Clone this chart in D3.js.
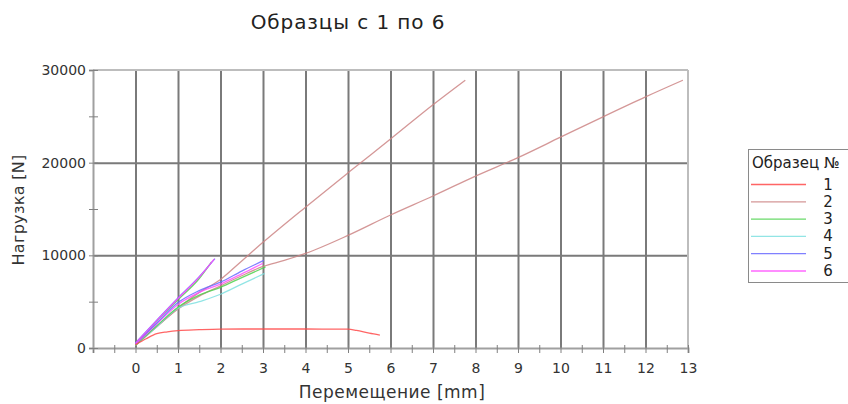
<!DOCTYPE html>
<html><head><meta charset="utf-8">
<script src="https://cdn.jsdelivr.net/npm/d3@7/dist/d3.min.js"></script>
<style>
html,body{margin:0;padding:0;background:#fff;}
svg{display:block;font-family:"DejaVu Sans",Verdana,sans-serif;}
</style></head>
<body>
<svg id="chart" width="848" height="404"></svg>
<script>
// ---- data ----
const title = "Образцы с 1 по 6";
const xTitle = "Перемещение [mm]";
const yTitle = "Нагрузка [N]";
const legendTitle = "Образец №";
const seriesNames = ["1","2","3","4","5","6"];
const xTickLabels = [0,1,2,3,4,5,6,7,8,9,10,11,12,13];
const yTickLabels = [0,10000,20000,30000];

// curves: [displacement mm, load N]
const curve1  = [[0,350],[0.25,1000],[0.5,1550],[0.75,1750],[1,1880],[1.5,1980],[2,2040],[3,2050],[4,2050],[5,2030],[5.2,1900],[5.5,1600],[5.75,1400]];
const curve2a = [[0,300],[0.5,2300],[1,4300],[1.5,6000],[2,7400],[2.5,9400],[3,11400],[4,15200],[5,18900],[6,22550],[7,26250],[7.76,28900]];
const curve2b = [[0,300],[0.5,2300],[1,4200],[1.5,5600],[2,6700],[2.5,7800],[3,8800],[3.5,9450],[4,10200],[5,12150],[6,14350],[7,16400],[8,18550],[9,20550],[10,22750],[11,24950],[12,27100],[12.88,28900]];
const curve3a = [[0,300],[0.5,2400],[1,4400],[1.5,5700],[2,6550],[2.5,7600],[3.06,8750]];
const curve3b = [[0,400],[0.5,2900],[1,5200],[1.5,7500],[1.79,9300]];
const curve4  = [[0,300],[0.5,2300],[1,4300],[1.5,5000],[2,5800],[2.5,6900],[3.04,8050]];
const curve5a = [[0,500],[0.5,2700],[1,4900],[1.5,6200],[2,7100],[2.5,8300],[3.02,9450]];
const curve5b = [[0,550],[0.5,3000],[1,5400],[1.5,7700],[1.87,9650]];
const curve6a = [[0,400],[0.5,2600],[1,4700],[1.5,6000],[2,6900],[2.5,8000],[3.0,9150]];
const curve6b = [[0,500],[0.5,2950],[1,5350],[1.5,7650],[1.85,9600]];

const curves = [
  {s:"2",d:curve2a},{s:"2",d:curve2b},{s:"4",d:curve4},{s:"3",d:curve3a},
  {s:"3",d:curve3b},{s:"6",d:curve6a},{s:"5",d:curve5a},{s:"5",d:curve5b},
  {s:"6",d:curve6b},{s:"1",d:curve1}
];

const colors = {"1":"#ff4a4a","2":"#cc8585","3":"#4fd24f","4":"#7fe0e0","5":"#6a6aff","6":"#ff4cff"};

// ---- layout ----
const svg = d3.select("#chart");
const L = 93, R = 688, T = 70, B = 348;
const x = d3.scaleLinear().domain([-1,13]).range([L,R]);
const y = d3.scaleLinear().domain([0,30000]).range([B,T]);

// vertical gridlines
svg.append("g").attr("transform",`translate(0,${B})`)
  .call(d3.axisBottom(x).tickValues(d3.range(0,13)).tickSize(-(B-T)).tickFormat(""))
  .call(g=>g.select(".domain").remove())
  .call(g=>g.selectAll("line").attr("stroke","#7a7a7a").attr("stroke-width",2));
// horizontal gridlines
svg.append("g").attr("transform",`translate(${L},0)`)
  .call(d3.axisLeft(y).tickValues([10000,20000]).tickSize(-(R-L)).tickFormat(""))
  .call(g=>g.select(".domain").remove())
  .call(g=>g.selectAll("line").attr("stroke","#7a7a7a").attr("stroke-width",2));

// plot border (top/right)
svg.append("line").attr("x1",L).attr("x2",R).attr("y1",T).attr("y2",T).attr("stroke","#bdbdbd").attr("stroke-width",2);
svg.append("line").attr("x1",R).attr("x2",R).attr("y1",T).attr("y2",B).attr("stroke","#bdbdbd").attr("stroke-width",2);

// x axis
const xa = svg.append("g").attr("transform",`translate(0,${B})`)
  .call(d3.axisBottom(x).tickValues(d3.range(-1,13.01,0.5)).tickSize(5).tickPadding(10)
    .tickFormat(d => xTickLabels.includes(d) ? d : ""));
xa.select(".domain").attr("stroke","#a0a0a0").attr("stroke-width",2);
xa.selectAll(".tick line").attr("y1",-3).attr("stroke","#808080").attr("stroke-width",1);
xa.selectAll("text").attr("font-size",14).attr("fill","#333").attr("font-family","DejaVu Sans");

// y axis
const ya = svg.append("g").attr("transform",`translate(${L},0)`)
  .call(d3.axisLeft(y).tickValues(d3.range(0,30001,5000)).tickSize(4).tickPadding(3)
    .tickFormat(d => yTickLabels.includes(d) ? d : ""));
ya.select(".domain").attr("stroke","#a0a0a0").attr("stroke-width",2);
ya.selectAll(".tick line").attr("x2",5).attr("x1",-4).attr("stroke","#808080").attr("stroke-width",1);
ya.selectAll("text").attr("font-size",14).attr("fill","#333").attr("font-family","DejaVu Sans");

// curves
const line = d3.line().x(d=>x(d[0])).y(d=>y(d[1])).curve(d3.curveMonotoneX);
svg.append("g").selectAll("path").data(curves).join("path")
  .attr("d",c=>line(c.d)).attr("fill","none")
  .attr("stroke",c=>colors[c.s]).attr("stroke-width",1.3).attr("stroke-opacity",0.85);

// titles
svg.append("text").attr("x",348).attr("y",29).attr("text-anchor","middle")
  .attr("font-size",20).attr("letter-spacing",0.9).attr("fill","#222").text(title);
svg.append("text").attr("x",392).attr("y",398).attr("text-anchor","middle")
  .attr("font-size",17).attr("letter-spacing",0.5).attr("fill","#333").text(xTitle);
svg.append("text").attr("transform","translate(24,210) rotate(-90)").attr("text-anchor","middle")
  .attr("font-size",16).attr("letter-spacing",0.3).attr("fill","#333").text(yTitle);

// legend
const lg = svg.append("g");
lg.append("rect").attr("x",748.5).attr("y",149.5).attr("width",110).attr("height",133)
  .attr("fill","#fff").attr("stroke","#8a8a8a").attr("stroke-width",1);
lg.append("text").attr("x",752).attr("y",168).attr("font-size",15).attr("fill","#222").text(legendTitle);
const rowY = d3.scaleLinear().domain([0,5]).range([184.5,271]);
seriesNames.forEach((s,i)=>{
  lg.append("line").attr("x1",751).attr("x2",806).attr("y1",rowY(i)).attr("y2",rowY(i))
    .attr("stroke",colors[s]).attr("stroke-width",1.3).attr("stroke-opacity",0.85);
  lg.append("text").attr("x",828).attr("y",rowY(i)+5).attr("text-anchor","middle")
    .attr("font-size",15).attr("fill","#222").text(s);
});
</script>
</body></html>
